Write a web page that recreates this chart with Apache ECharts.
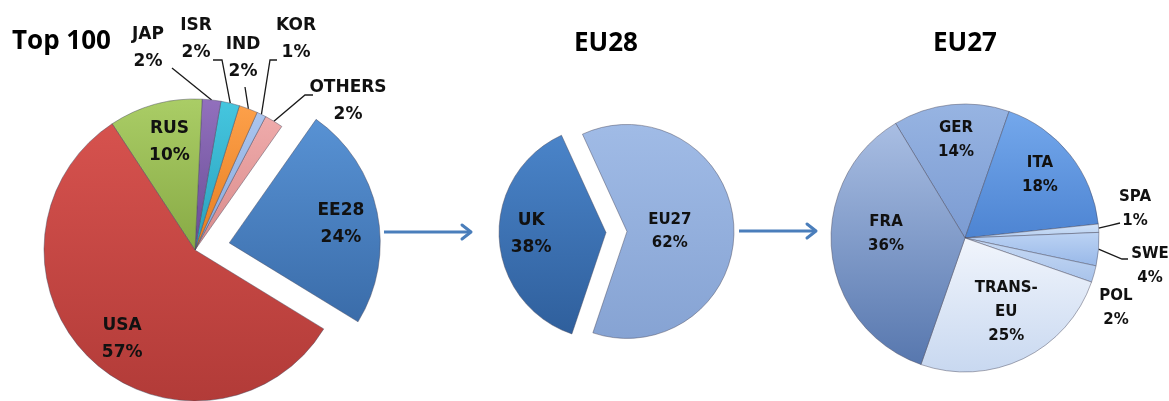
<!DOCTYPE html>
<html>
<head>
<meta charset="utf-8">
<script src="https://cdn.jsdelivr.net/npm/echarts@6/dist/echarts.min.js"></script>
<style>
  html, body { margin: 0; padding: 0; background: #ffffff; }
  #chart { width: 1169px; height: 401px; }
</style>
</head>
<body>
<div id="chart"></div>
<script>
// ---------------- DATA ----------------
const titles = ['Top 100', 'EU28', 'EU27'];

const top100Names  = ['EE28', 'OTHERS', 'KOR', 'IND', 'ISR', 'JAP', 'RUS', 'USA'];
const top100Values = [24, 2, 1, 2, 2, 2, 10, 57];

const eu28Names  = ['UK', 'EU27'];
const eu28Values = [38, 62];

const eu27Names  = ['GER', 'ITA', 'SPA', 'SWE', 'POL', 'TRANS-EU', 'FRA'];
const eu27Values = [14, 18, 1, 4, 2, 25, 36];

// ---------------- STYLE / LAYOUT ----------------
const pies = [
  {
    names: top100Names, values: top100Values,
    center: [195, 250], r: 151, start: -31.5, clockwise: false,
    selected: { EE28: true }, offset: 35, font: 17, lh: 27,
    colors: {
      EE28: ['#5892d4', '#3a6ca9'], OTHERS: ['#efabab', '#d88a8a'], KOR: ['#abc5ee', '#86a8dc'],
      IND: ['#fda04a', '#e57d1f'], ISR: ['#45c6df', '#2a9fbb'], JAP: ['#9270bd', '#684c95'],
      RUS: ['#aacd66', '#88aa45'], USA: ['#d6524e', '#b23b38']
    },
    // [radius factor, angle tweak in degrees]
    inside: { EE28: [0.75, -2], RUS: [0.735, -2], USA: [0.76, 4.7] },
    // label centre relative to pie centre, leader-line bend and end relative to label centre
    outside: {
      JAP: { at: [-47, -202], end: [24, 20] },
      ISR: { at: [1, -211], bend: [26, 21], end: [17, 21] },
      IND: { at: [48, -192], end: [2, 29] },
      KOR: { at: [101, -211], bend: [-26, 21], end: [-19, 21] },
      OTHERS: { at: [153, -149], bend: [-43, -6], end: [-35, -6] }
    }
  },
  {
    names: eu28Names, values: eu28Values,
    center: [616.5, 232], r: 107, start: 114.6, clockwise: false,
    selected: { UK: true, EU27: true }, offset: 10.5, font: 15, lh: 23,
    fontOverride: { UK: [17, 27] },
    colors: { UK: ['#4a84c9', '#2f5f9c'], EU27: ['#a0bbe6', '#86a3d3'] },
    inside: { UK: [0.70, -2], EU27: [0.40, -3] },
    outside: {}
  },
  {
    names: eu27Names, values: eu27Values,
    center: [965, 238], r: 134, start: 121.2, clockwise: true,
    selected: {}, offset: 0, font: 15, lh: 24,
    colors: {
      GER: ['#97b4e2', '#7b9bd2'], ITA: ['#74a8ec', '#4d84d2'], SPA: ['#d3e3f8', '#b3ccef'],
      SWE: ['#bcd3f4', '#98b8e8'], POL: ['#c8daf4', '#a8c3eb'], 'TRANS-EU': ['#f1f5fc', '#c8d8f0'],
      FRA: ['#a9bee3', '#5777ae']
    },
    inside: { GER: [0.73, -0.7], ITA: [0.73, 1.6], FRA: [0.59, -8.9], 'TRANS-EU': [0.63, 3.5] },
    outside: {
      SPA: { at: [170, -29], end: [-15, 14] },
      SWE: { at: [185, 28], bend: [-28, -7], end: [-22, -7] },
      POL: { at: [151, 70] }
    }
  }
];

const titlePos = [[12, 42, 'left'], [606, 44, 'center'], [965, 44, 'center']];
const LABEL_FONT = '"DejaVu Sans", sans-serif';

function grad(c) {
  return new echarts.graphic.LinearGradient(0, 0, 0, 1, [
    { offset: 0, color: c[0] }, { offset: 1, color: c[1] }
  ]);
}

function midAngles(p) {
  const tot = p.values.reduce((a, b) => a + b, 0);
  let cum = 0;
  return p.values.map(v => {
    const a = p.start + (p.clockwise ? -1 : 1) * (cum + v / 2) / tot * 360;
    cum += v;
    return a;
  });
}

const series = [];
// slice series
pies.forEach(p => {
  series.push({
    type: 'pie',
    silent: true,
    animation: false,
    center: p.center,
    radius: p.r,
    startAngle: p.start,
    clockwise: p.clockwise,
    avoidLabelOverlap: false,
    selectedMode: 'multiple',
    selectedOffset: p.offset,
    emphasis: { disabled: true },
    itemStyle: { borderColor: 'rgba(70,70,90,0.45)', borderWidth: 1 },
    label: { show: false },
    labelLine: { show: false },
    data: p.names.map((n, i) => ({
      name: n, value: p.values[i],
      selected: !!p.selected[n],
      itemStyle: { color: grad(p.colors[n]) }
    }))
  });
});
// label series (transparent, same geometry) so labels can be placed freely
pies.forEach(p => {
  const mids = midAngles(p);
  series.push({
    type: 'pie',
    silent: true,
    animation: false,
    center: p.center,
    radius: p.r,
    startAngle: p.start,
    clockwise: p.clockwise,
    avoidLabelOverlap: false,
    selectedMode: false,
    emphasis: { disabled: true },
    itemStyle: { color: 'rgba(0,0,0,0)', borderWidth: 0 },
    label: {
      fontFamily: LABEL_FONT, fontWeight: 'bold', fontSize: p.font, lineHeight: p.lh,
      color: '#111', align: 'center',
      formatter: prm => prm.name.replace('TRANS-', 'TRANS-\n') + '\n' + prm.value + '%'
    },
    labelLine: { length: 8, length2: 8, lineStyle: { color: '#1a1a1a', width: 1.3 } },
    labelLayout: function (params) {
      const name = p.names[params.dataIndex];
      const mid = mids[params.dataIndex] * Math.PI / 180;
      let cx = p.center[0], cy = p.center[1];
      if (p.selected[name]) { cx += p.offset * Math.cos(mid); cy -= p.offset * Math.sin(mid); }
      if (p.inside[name]) {
        const k = p.inside[name][0], da = p.inside[name][1] * Math.PI / 180;
        const a = mid + da;
        return { x: cx + k * p.r * Math.cos(a), y: cy - k * p.r * Math.sin(a), align: 'center', verticalAlign: 'middle' };
      }
      const o = p.outside[name];
      if (o) {
        const lx = p.center[0] + o.at[0], ly = p.center[1] + o.at[1];
        const res = { x: lx, y: ly, align: 'center', verticalAlign: 'middle' };
        if (o.end) {
          const e0 = [cx + p.r * Math.cos(mid), cy - p.r * Math.sin(mid)];
          const e2 = [lx + o.end[0], ly + o.end[1]];
          const e1 = o.bend ? [lx + o.bend[0], ly + o.bend[1]] : [(e0[0] + e2[0]) / 2, (e0[1] + e2[1]) / 2];
          res.labelLinePoints = [e0, e1, e2];
        }
        return res;
      }
      return {};
    },
    data: p.names.map((n, i) => {
      const isIn = !!p.inside[n];
      const o = p.outside[n];
      const fo = p.fontOverride && p.fontOverride[n];
      const item = {
        name: n, value: p.values[i],
        label: { position: isIn ? 'inside' : 'outside' },
        labelLine: { show: !isIn && !!(o && o.end) }
      };
      if (fo) { item.label.fontSize = fo[0]; item.label.lineHeight = fo[1]; }
      return item;
    })
  });
});

const arrowColor = '#4a7ebb';
function arrow(x1, x2, y) {
  return {
    type: 'group', silent: true,
    children: [
      { type: 'line', shape: { x1: x1, y1: y, x2: x2 - 1, y2: y }, style: { stroke: arrowColor, lineWidth: 3 } },
      { type: 'polyline', shape: { points: [[x2 - 9, y - 7], [x2, y], [x2 - 9, y + 7]] },
        style: { stroke: arrowColor, lineWidth: 3, fill: null, lineJoin: 'round', lineCap: 'round' } }
    ]
  };
}

const graphic = titles.map((t, i) => ({
  type: 'text', silent: true,
  x: titlePos[i][0], y: titlePos[i][1],
  style: {
    text: t, fill: '#000', font: 'bold 26px "Open Sans", sans-serif',
    textAlign: titlePos[i][2], textVerticalAlign: 'middle'
  }
})).concat([arrow(384, 471, 232), arrow(739, 816, 231)]);

const chart = echarts.init(document.getElementById('chart'), null, { renderer: 'canvas' });
chart.setOption({
  backgroundColor: '#ffffff',
  animation: false,
  series: series,
  graphic: graphic
});
</script>
</body>
</html>
